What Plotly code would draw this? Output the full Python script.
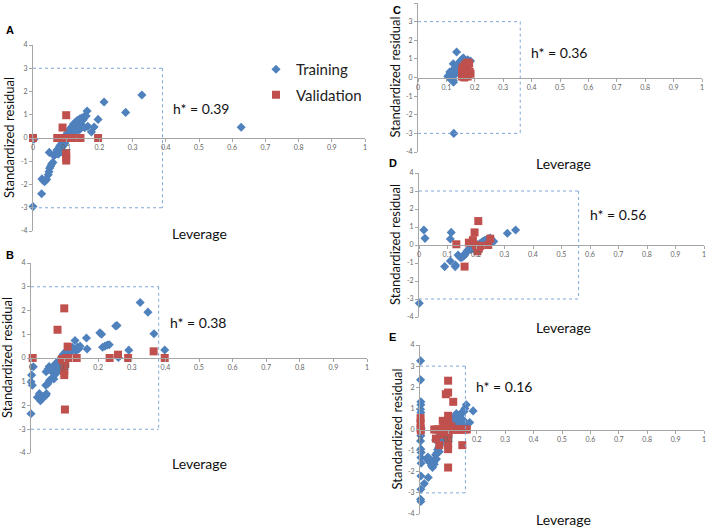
import plotly.graph_objects as go

# ---------------- data ----------------
panels = ["A", "B", "C", "D", "E"]
h_star = [0.39, 0.38, 0.36, 0.56, 0.16]

a_train_x = [0.000, 0.003, 0.026, 0.027, 0.031, 0.035, 0.038, 0.041, 0.046, 0.048, 0.050, 0.053, 0.056, 0.060, 0.049,
             0.063, 0.066, 0.070, 0.072, 0.076, 0.078, 0.080, 0.082, 0.084, 0.086, 0.088, 0.088, 0.090, 0.092, 0.093,
             0.095, 0.096, 0.098, 0.100, 0.102, 0.104, 0.106, 0.108, 0.110, 0.112, 0.115, 0.118, 0.120, 0.122, 0.125,
             0.127, 0.130, 0.133, 0.136, 0.140, 0.143, 0.146, 0.148, 0.151, 0.154, 0.156, 0.160, 0.163, 0.165, 0.176,
             0.184, 0.196, 0.214, 0.279, 0.328, 0.627, 0.130, 0.140, 0.125]
a_train_y = [-2.95, -0.05, -2.40, -1.76, -1.83, -1.88, -1.80, -1.78, -1.58, -1.45, -1.30, -1.22, -1.12, -1.05, -0.62,
             -0.76, -0.72, -0.66, -0.52, -0.70, -0.45, -0.36, -0.55, -0.28, -0.42, -0.20, -0.60, -0.12, -0.32, -0.05,
             0.02, -0.22, 0.10, 0.05, 0.16, 0.22, 0.12, 0.30, 0.25, 0.38, 0.45, 0.35, 0.52, 0.60, 0.45,
             0.66, 0.55, 0.75, 0.70, 0.82, 0.62, 0.86, 0.50, 0.78, 0.92, 0.44, 0.95, 1.16, 0.50, 0.26,
             0.47, 0.80, 1.55, 1.10, 1.85, 0.46, 0.30, 0.35, 0.25]
a_val_x = [0.000, 0.073, 0.083, 0.091, 0.100, 0.110, 0.120, 0.143, 0.196, 0.089, 0.100, 0.100, 0.100, 0.100]
a_val_y = [0.00, 0.00, 0.00, 0.00, 0.00, 0.00, 0.00, 0.00, 0.00, 0.45, 0.98, -0.65, -0.83, -0.97]

b_train_x = [0.000, 0.000, 0.004, 0.002, 0.007, 0.019, 0.025, 0.028, 0.033, 0.036, 0.044, 0.046, 0.044, 0.050, 0.055,
             0.061, 0.068, 0.045, 0.051, 0.054, 0.058, 0.062, 0.066, 0.070, 0.072, 0.074, 0.076, 0.078, 0.080, 0.082,
             0.085, 0.088, 0.090, 0.092, 0.094, 0.096, 0.100, 0.103, 0.106, 0.110, 0.113, 0.116, 0.120, 0.123, 0.126,
             0.131, 0.134, 0.138, 0.142, 0.146, 0.165, 0.167, 0.205, 0.210, 0.213, 0.220, 0.227, 0.233, 0.252, 0.256,
             0.260, 0.291, 0.325, 0.348, 0.366, 0.398]
b_train_y = [-2.35, -1.00, -1.15, -0.72, -0.37, -1.65, -1.50, -1.80, -1.72, -1.62, -1.58, -1.50, -1.15, -1.08, -0.95,
             -0.86, -0.88, -0.58, -0.46, -0.36, -0.52, -0.40, -0.60, -0.30, -0.45, -0.66, -0.20, -0.38, -0.55, -0.12,
             -0.28, -0.05, -0.40, 0.05, -0.15, 0.16, 0.10, 0.25, 0.30, 0.18, 0.35, 0.42, 0.28, 0.45, 0.38,
             0.74, 0.30, 0.45, 0.38, 0.50, 0.84, 0.38, 1.06, 1.00, 0.45, 0.50, 0.55, 0.56, 1.35, 1.37,
             0.02, 0.33, 2.34, 1.93, 1.02, 0.34]
b_val_x = [0.005, 0.079, 0.099, 0.101, 0.099, 0.099, 0.092, 0.097, 0.102, 0.105, 0.109, 0.111, 0.136, 0.234, 0.259,
           0.289, 0.365, 0.398]
b_val_y = [0.00, 1.19, 2.09, -2.17, -0.72, -0.54, -0.05, -0.15, -0.25, 0.00, 0.48, 0.00, 0.00, 0.00, 0.14,
           0.00, 0.28, 0.00]

c_train_x = [0.105, 0.108, 0.110, 0.112, 0.115, 0.118, 0.120, 0.122, 0.124, 0.125, 0.127, 0.130, 0.132, 0.135, 0.136,
             0.138, 0.140, 0.142, 0.145, 0.148, 0.150, 0.153, 0.156, 0.160, 0.163, 0.166, 0.170, 0.175, 0.180, 0.185,
             0.120, 0.124, 0.126]
c_train_y = [0.05, 0.12, -0.02, 0.30, 0.20, 0.08, -0.05, 0.35, 0.74, -0.25, 0.45, 0.15, 0.55, 0.60, 1.37,
             0.30, 0.70, 0.40, 0.80, 0.65, 0.90, 0.85, 1.00, 1.05, 0.95, 0.90, 0.85, 0.95, 0.85, 0.88,
             0.00, -0.15, -3.00]
c_val_x = [0.155, 0.155, 0.155, 0.158, 0.160, 0.163, 0.165, 0.170, 0.175, 0.180, 0.168, 0.175, 0.182, 0.185, 0.170,
           0.175, 0.165, 0.160]
c_val_y = [0.05, 0.20, 0.40, 0.55, 0.10, 0.00, 0.65, 0.75, 0.80, 0.75, 0.30, 0.35, 0.30, 0.20, 0.10,
           0.05, 0.45, 0.30]

d_train_x = [0.017, 0.021, 0.001, 0.090, 0.110, 0.113, 0.110, 0.128, 0.127, 0.137, 0.142, 0.147, 0.152, 0.156, 0.160,
             0.164, 0.168, 0.172, 0.176, 0.182, 0.186, 0.190, 0.195, 0.200, 0.204, 0.208, 0.214, 0.220, 0.225, 0.230,
             0.235, 0.240, 0.245, 0.250, 0.254, 0.258, 0.262, 0.310, 0.339]
d_train_y = [0.83, 0.37, -3.24, -1.20, -0.89, 0.70, 0.33, -1.11, -1.20, -0.56, -0.65, -0.70, -0.66, -0.62, -0.56,
             -0.45, -0.35, -0.28, -0.20, -0.25, -0.15, -0.20, -0.10, -0.05, 0.02, 0.00, 0.08, 0.15, 0.20, 0.25,
             0.28, 0.32, 0.35, 0.38, 0.28, 0.24, 0.20, 0.65, 0.83]
d_val_x = [0.131, 0.160, 0.175, 0.189, 0.195, 0.208, 0.200, 0.205, 0.210, 0.205, 0.215, 0.243, 0.250]
d_val_y = [0.04, -1.20, 0.13, 0.27, 0.70, 1.33, -0.02, -0.10, -0.20, -0.35, -0.05, 0.00, 0.35]

e_train_x = [0.002, 0.002, 0.003, 0.003, 0.002, 0.003, 0.004, 0.003, 0.002, 0.003, 0.004, 0.003, 0.004, 0.003, 0.003,
             0.002, 0.003, 0.015, 0.029, 0.023, 0.028, 0.035, 0.040, 0.044, 0.048, 0.050, 0.052, 0.058, 0.055, 0.060,
             0.062, 0.066, 0.068, 0.070, 0.072, 0.075, 0.078, 0.080, 0.083, 0.086, 0.088, 0.090, 0.092, 0.060, 0.055,
             0.068, 0.075, 0.095, 0.110, 0.114, 0.118, 0.122, 0.125, 0.128, 0.132, 0.135, 0.138, 0.142, 0.146, 0.150,
             0.155, 0.158, 0.163, 0.187, 0.175, 0.165, 0.158, 0.152, 0.145, 0.138, 0.130, 0.122, 0.128, 0.140, 0.150,
             0.160, 0.120]
e_train_y = [3.25, 2.35, 1.31, 1.17, 0.96, 0.80, 0.05, -0.30, -0.54, -0.93, -1.09, -1.33, -1.60, -2.20, -2.83,
             -3.30, -3.41, -2.56, -2.27, -1.40, -1.30, -1.56, -1.70, -1.80, -1.55, -1.65, -1.40, -1.40, -1.20, -1.10,
             -0.95, -0.85, -1.05, -0.75, -0.60, -0.50, -0.40, -0.30, -0.20, -0.45, -0.10, -0.55, -0.25, -0.40, -0.50,
             -0.35, -0.20, -0.05, 0.08, 0.18, 0.28, 0.35, 0.45, 0.52, 0.58, 0.62, 0.68, 0.72, 0.78, 0.82,
             0.85, 1.00, 1.17, 0.88, 0.33, 0.25, 0.35, 0.45, 0.30, 0.20, 0.12, 0.60, 0.75, 0.10, 0.15,
             0.10, 0.05]
e_val_x = [0.002, 0.002, 0.002, 0.003, 0.050, 0.058, 0.065, 0.072, 0.080, 0.088, 0.095, 0.105, 0.112, 0.120, 0.128,
           0.135, 0.142, 0.150, 0.158, 0.165, 0.099, 0.099, 0.100, 0.100, 0.100, 0.100, 0.099, 0.099, 0.099, 0.099,
           0.099, 0.099, 0.091, 0.117, 0.080, 0.056, 0.068, 0.149, 0.075, 0.110, 0.085]
e_val_y = [0.54, 0.30, 0.05, -0.05, 0.00, 0.00, 0.00, 0.00, 0.00, 0.00, 0.00, 0.00, 0.00, 0.00, 0.00,
           0.00, 0.00, 0.00, 0.00, 0.00, 0.65, 0.45, 0.25, 0.12, -0.12, -0.25, -0.40, -0.66, -0.93, -1.80,
           2.31, 1.75, 1.67, 1.31, 0.41, -0.43, -0.74, -0.74, -0.25, 0.15, 0.10]

train_x = [a_train_x, b_train_x, c_train_x, d_train_x, e_train_x]
train_y = [a_train_y, b_train_y, c_train_y, d_train_y, e_train_y]
val_x = [a_val_x, b_val_x, c_val_x, d_val_x, e_val_x]
val_y = [a_val_y, b_val_y, c_val_y, d_val_y, e_val_y]

x_ticks = [0, 0.1, 0.2, 0.3, 0.4, 0.5, 0.6, 0.7, 0.8, 0.9, 1]
x_ticktext = ["0", "0.1", "0.2", "0.3", "0.4", "0.5", "0.6", "0.7", "0.8", "0.9", "1"]
y_ticks = [-4, -3, -2, -1, 0, 1, 2, 3, 4]
y_ticktext = ["-4", "-3", "-2", "-1", "0", "1", "2", "3", "4"]
y_ticktext_b = ["-4", "-3", "2", "1", "0", "1", "2", "3", "4"]

# ---------------- layout geometry (pixels of a 709 x 527 page) ----------------
W, H = 709, 527
boxes = [  # left, right, top, bottom in pixels
    (33, 365, 45, 231),
    (31, 367, 263, 453),
    (418, 702, 3, 152),
    (419, 704, 173, 317),
    (420, 704, 345, 514),
]
letter_pos = [(10, 30), (10, 255), (397, 10), (393, 163), (392, 337)]
lev_pos = [(199, 233), (199, 463), (563, 163), (563, 327), (563, 519)]
hlabel_y = [1.25, 1.5, 1.35, 1.67, 2.04]

BLUE = "#4f81bd"
RED = "#c0504d"
BOX = "#7fa7d8"
AXIS = "#a6a6a6"
FONT = "Lato"

fig = go.Figure()
layout = dict(
    width=W, height=H,
    margin=dict(l=0, r=0, t=0, b=0, autoexpand=False),
    paper_bgcolor="white", plot_bgcolor="white",
    font=dict(family=FONT, color="#222"),
    showlegend=True,
    legend=dict(x=256 / W, y=1 - 53 / H, xanchor="left", yanchor="top",
                font=dict(size=15, family=FONT, color="#222"),
                bgcolor="rgba(0,0,0,0)", tracegroupgap=3, traceorder="grouped",
                itemwidth=30),
)
shapes = []
annotations = []

for i, p in enumerate(panels):
    n = "" if i == 0 else str(i + 1)
    l, r, t, b = boxes[i]
    xd = [l / W, r / W]
    yd = [1 - b / H, 1 - t / H]
    ymin, ymax = -4, 4
    pos = yd[0] + (0 - ymin) / (ymax - ymin) * (yd[1] - yd[0])
    layout["xaxis" + n] = dict(
        domain=xd, range=[0, 1], anchor="free", position=pos, automargin=False,
        showline=True, linecolor=AXIS, linewidth=1,
        ticks="outside", ticklen=3, tickcolor=AXIS,
        tickvals=x_ticks, ticktext=x_ticktext,
        tickfont=dict(size=7, color="#666", family=FONT),
        showgrid=False, zeroline=False, fixedrange=True,
    )
    layout["yaxis" + n] = dict(
        domain=yd, range=[ymin, ymax], anchor="x" + n, automargin=False,
        showline=True, linecolor=AXIS, linewidth=1,
        ticks="outside", ticklen=3, tickcolor=AXIS,
        tickvals=y_ticks, ticktext=(y_ticktext_b if p == "B" else y_ticktext),
        tickfont=dict(size=7, color="#666", family=FONT),
        showgrid=False, zeroline=False, fixedrange=True,
    )
    xr = "x" + n
    yr = "y" + n
    fig.add_trace(go.Scatter(
        x=train_x[i], y=train_y[i], mode="markers", xaxis=xr, yaxis=yr,
        marker=dict(symbol="diamond", size=7, color=BLUE), cliponaxis=False,
        name="Training", legendgroup="t", showlegend=(i == 0),
    ))
    fig.add_trace(go.Scatter(
        x=val_x[i], y=val_y[i], mode="markers", xaxis=xr, yaxis=yr,
        marker=dict(symbol="square", size=8, color=RED), cliponaxis=False,
        name="Validation", legendgroup="v", showlegend=(i == 0),
    ))
    # dashed warning box: top, right, bottom edges
    hs = h_star[i]
    for (x0, y0, x1, y1) in [(0, 3, hs, 3), (hs, 3, hs, -3), (0, -3, hs, -3)]:
        shapes.append(dict(type="line", xref=xr, yref=yr, x0=x0, y0=y0, x1=x1, y1=y1,
                           line=dict(color=BOX, width=1, dash="dot")))
    annotations.append(dict(xref=xr, yref=yr, x=hs, y=hlabel_y[i], xshift=9,
                            text="h* = %.2f" % hs, showarrow=False, xanchor="left",
                            font=dict(size=14, family=FONT, color="#111")))
    # panel letter
    lx, ly = letter_pos[i]
    annotations.append(dict(xref="paper", yref="paper", x=lx / W, y=1 - ly / H,
                            text="<b>%s</b>" % p, showarrow=False,
                            xanchor="center", yanchor="middle",
                            font=dict(size=11, family="Liberation Sans", color="#000")))
    # axis titles
    annotations.append(dict(xref="paper", yref="paper", x=(l - 24) / W, y=(yd[0] + yd[1]) / 2,
                            text="Standardized residual", textangle=-90, showarrow=False,
                            xanchor="center", yanchor="middle",
                            font=dict(size=13, family=FONT, color="#111")))
    ex, ey = lev_pos[i]
    annotations.append(dict(xref="paper", yref="paper", x=ex / W, y=1 - ey / H,
                            text="Leverage", showarrow=False,
                            xanchor="center", yanchor="middle",
                            font=dict(size=14, family=FONT, color="#111")))

layout["shapes"] = shapes
layout["annotations"] = annotations
fig.update_layout(**layout)
# the page's default 8px body margin would shift the whole figure; remove it
fig.write_html("out.html", config={"displayModeBar": False},
               post_script="document.body.style.margin='0px';")
